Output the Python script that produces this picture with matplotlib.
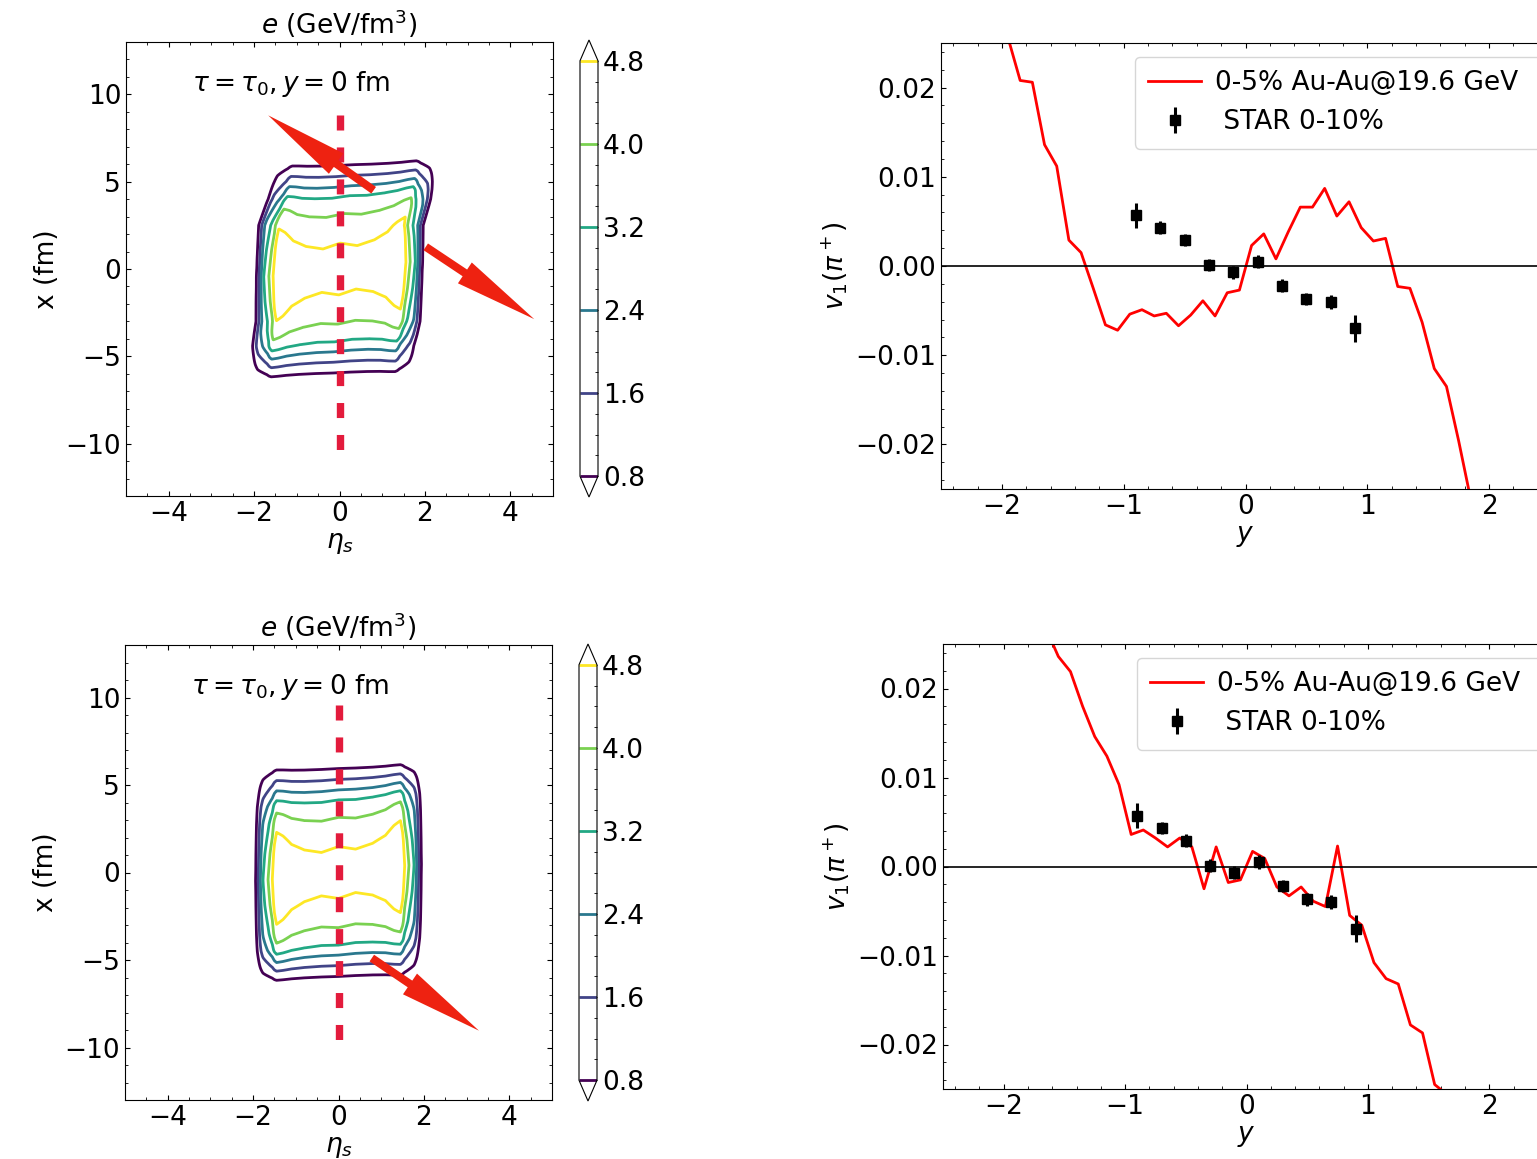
import numpy as np
import matplotlib
matplotlib.use("Agg")
import matplotlib.pyplot as plt
from matplotlib.ticker import MultipleLocator, FixedLocator

# ------------------------------------------------------------------ data
# contour levels of the initial energy density e (GeV/fm^3)
levels = [0.8, 1.6, 2.4, 3.2, 4.0, 4.8]

# transverse (x) and longitudinal (eta_s) profiles
x_nodes = [0.0, 1.48, 3.15, 4.15, 4.72, 5.32, 5.94, 6.6, 14.0]
x_profile = [5.25, 4.80, 4.00, 3.20, 2.40, 1.60, 0.80, 0.0, 0.0]
eta_nodes = [0.0, 0.4, 0.8, 1.1, 1.3, 1.45, 1.5, 1.55, 1.65, 1.77, 1.83, 1.88, 1.94, 2.1, 6.0]
eta_profile = [1.0, 0.985, 1.0, 1.04, 1.10, 1.13, 1.05, 0.914, 0.762, 0.61, 0.457, 0.305, 0.152, 0.0, 0.0]
# tilt of the x-profile with eta_s (fm per unit eta_s), versus |x|
tilt_nodes = [0.0, 4.0, 6.0, 14.0]
tilt_vals = [0.25, 0.22, 0.10, 0.10]
# shear of the eta_s edges with x (top panel only)
shear_nodes = [-14.0, -6.0, -4.4, -3.0, 0.0, 2.5, 4.0, 5.0, 6.0, 14.0]
shear_top = [-0.15, -0.15, -0.13, -0.03, 0.0, 0.03, 0.22, 0.30, 0.35, 0.35]
shear_bottom = [0.0, 0.0, 0.0, 0.0, 0.0, 0.0, 0.0, 0.0, 0.0, 0.0]

# arrows (tail eta, tail x, tip eta, tip x)
arrows_top = [(0.80, 4.51, -1.67, 8.80), (2.02, 1.27, 4.56, -2.87)]
arrows_bottom = [(0.78, -4.89, 3.29, -9.04)]
dash_top = (8.8, -10.34)
dash_bottom = (9.6, -9.7)

# v1(pi+) vs rapidity: model curves
rap_top = [-2.05, -1.95, -1.85, -1.75, -1.65, -1.55, -1.45, -1.35, -1.25, -1.15,
           -1.05, -0.95, -0.85, -0.75, -0.65, -0.55, -0.45, -0.35, -0.25, -0.15,
           -0.05, 0.05, 0.15, 0.25, 0.35, 0.45, 0.55, 0.65, 0.75, 0.85,
           0.95, 1.05, 1.15, 1.25, 1.35, 1.45, 1.55, 1.65, 1.75, 1.85, 1.95]
v1_top = [0.031, 0.0256, 0.0208, 0.0206, 0.0136, 0.0112, 0.0029, 0.0015, -0.0025, -0.0066,
          -0.0072, -0.0054, -0.0049, -0.0056, -0.0053, -0.0067, -0.0055, -0.0039, -0.0056, -0.0030,
          -0.0027, 0.0023, 0.0036, 0.0008, 0.0038, 0.0066, 0.0066, 0.0087, 0.0056, 0.0072,
          0.0043, 0.0028, 0.0031, -0.0023, -0.0025, -0.0063, -0.0115, -0.0135, -0.0196, -0.0262, -0.031]

rap_bottom = [-1.75, -1.65, -1.55, -1.45, -1.35, -1.25, -1.15, -1.05, -0.95, -0.85,
              -0.75, -0.65, -0.55, -0.45, -0.35, -0.25, -0.15, -0.05, 0.05, 0.15,
              0.25, 0.35, 0.45, 0.55, 0.65, 0.75, 0.85, 0.95, 1.05, 1.15,
              1.25, 1.35, 1.45, 1.55, 1.65, 1.75]
v1_bottom = [0.031, 0.0267, 0.0236, 0.0219, 0.0180, 0.0146, 0.0124, 0.0092, 0.0036, 0.0041,
             0.0032, 0.0022, 0.0032, 0.0022, -0.0025, 0.0022, -0.0018, -0.0015, 0.0017, 0.0009,
             -0.0023, -0.0033, -0.0023, -0.0039, -0.0045, 0.0023, -0.0055, -0.0066, -0.0108, -0.0126,
             -0.0132, -0.0178, -0.0187, -0.0245, -0.0256, -0.030]

# STAR 0-10% data
rap_star = [-0.9, -0.7, -0.5, -0.3, -0.1, 0.1, 0.3, 0.5, 0.7, 0.9]
v1_star = [0.0057, 0.0043, 0.0029, 0.0001, -0.0007, 0.0005, -0.0022, -0.0037, -0.0040, -0.0070]
err_star = [0.0014, 0.0007, 0.0007, 0.0007, 0.00075, 0.00075, 0.0007, 0.0007, 0.0008, 0.0015]

model_label = "0-5% Au-Au@19.6 GeV"
star_label = " STAR 0-10%"

# ------------------------------------------------------------------ figure
FS_L = 19
FS_R = 19
W, H = 1537, 1159
fig = plt.figure(figsize=(W / 100, H / 100), dpi=100)


def fbox(left, top, right, bottom):
    return [left / W, 1 - bottom / H, (right - left) / W, (bottom - top) / H]


eta = np.linspace(-5, 5, 801)
xx = np.linspace(-13, 13, 1041)
E, X = np.meshgrid(eta, xx)


def field(shear_vals):
    t = np.interp(np.abs(X), tilt_nodes, tilt_vals)
    xp = X - t * E
    ep = E - np.interp(X, shear_nodes, shear_vals)
    return np.interp(np.abs(xp), x_nodes, x_profile) * np.interp(np.abs(ep), eta_nodes, eta_profile)


def contour_panel(axbox, cbox, shear_vals, arrows, dash):
    ax = fig.add_axes(fbox(*axbox))
    cax = fig.add_axes(fbox(*cbox))
    Z = field(shear_vals)
    cs = ax.contour(E, X, Z, levels=levels, cmap="viridis", linewidths=2.0, extend="both")
    ax.plot([0, 0], list(dash), color="#e31b3c", lw=5.3, linestyle=(0, (2.04, 2.3)),
            solid_capstyle="butt", dash_capstyle="butt")
    for (e0, x0, e1, x1) in arrows:
        ax.annotate("", xy=(e1, x1), xytext=(e0, x0),
                    arrowprops=dict(arrowstyle="simple,head_length=60,head_width=18,tail_width=5.8",
                                    mutation_scale=1, color="#ee2211", lw=0,
                                    shrinkA=0, shrinkB=0))
    ax.text(-3.45, 10.6, r"$\tau=\tau_0, y=0$ fm", fontsize=FS_L, va="center", ha="left")
    ax.set_xlim(-5, 5)
    ax.set_ylim(-13, 13)
    ax.set_xticks([-4, -2, 0, 2, 4])
    ax.set_yticks([-10, -5, 0, 5, 10])
    ax.xaxis.set_minor_locator(MultipleLocator(0.5))
    ax.yaxis.set_minor_locator(MultipleLocator(1))
    ax.tick_params(which="both", direction="in", top=True, right=True, labelsize=FS_L)
    ax.set_xlabel(r"$\eta_s$", fontsize=FS_L, labelpad=2)
    ax.set_ylabel("x (fm)", fontsize=FS_L)
    ax.set_title(r"$e$ (GeV/fm$^3$)", fontsize=FS_L, pad=6)
    cb = fig.colorbar(cs, cax=cax)
    cb.set_ticks(levels)
    cb.set_ticklabels(["%.1f" % v for v in levels])
    cb.ax.yaxis.set_minor_locator(FixedLocator(np.arange(0.8, 4.81, 0.2)))
    cb.ax.tick_params(which="both", direction="in", labelsize=FS_L)
    return ax


def v1_panel(axbox, rap, v1):
    ax = fig.add_axes(fbox(*axbox))
    ax.plot(rap, v1, color="red", lw=2.0, label=model_label)
    ax.errorbar(rap_star, v1_star, yerr=err_star, fmt="s", color="black", ms=6.5,
                elinewidth=2.2, capsize=0, label=star_label)
    ax.axhline(0, color="black", lw=1.2)
    ax.set_xlim(-2.5, 2.5)
    ax.set_ylim(-0.025, 0.025)
    ax.set_xticks([-2, -1, 0, 1, 2])
    ax.set_yticks([-0.02, -0.01, 0.0, 0.01, 0.02])
    ax.xaxis.set_minor_locator(MultipleLocator(0.2))
    ax.yaxis.set_minor_locator(MultipleLocator(0.002))
    ax.tick_params(which="both", direction="in", top=True, right=True, labelsize=FS_R)
    ax.set_xlabel(r"$y$", fontsize=FS_R, labelpad=2)
    ax.set_ylabel(r"$v_1(\pi^+)$", fontsize=FS_R)
    wpx = axbox[2] - axbox[0]
    hpx = axbox[3] - axbox[1]
    x0 = (1135 - 941) / wpx
    ax.legend(loc="upper left", bbox_to_anchor=(x0, 0.0, 1.03 - x0, 1 - 14 / hpx),
              mode="expand", borderaxespad=0, borderpad=0.5, fontsize=FS_R,
              handletextpad=0.55)
    return ax


contour_panel((126, 42, 553, 496), (580, 40, 598, 497), shear_top, arrows_top, dash_top)
contour_panel((125, 645, 552, 1100), (579, 644, 597, 1101), shear_bottom, arrows_bottom, dash_bottom)
v1_panel((941, 43, 1550, 489), rap_top, v1_top)
v1_panel((943, 644, 1550, 1089), rap_bottom, v1_bottom)

fig.savefig("out.png", dpi=100)
